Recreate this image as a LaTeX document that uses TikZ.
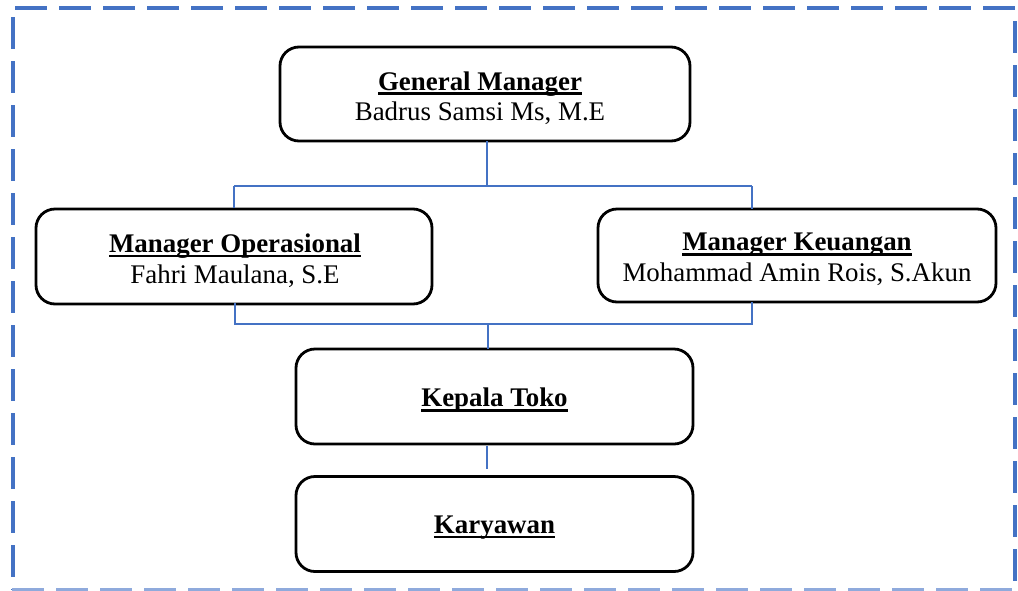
\documentclass[tikz,border=0pt]{standalone}
\usepackage{fontspec}
\setmainfont{Liberation Serif}
\definecolor{bordblue}{HTML}{4472C4}
\newcommand{\myul}[1]{\setbox0\hbox{#1}\rlap{\rule[-0.17em]{\wd0}{0.085em}}\box0}
\begin{document}
\begin{tikzpicture}[x=1pt,y=-1pt,
  orgbox/.style={draw=black,line width=2.8pt,rounded corners=19pt,fill=white,inner sep=0pt},
  orgtxt/.style={align=center,inner sep=0pt,yshift=-4pt,font=\fontsize{26.9}{30.5}\selectfont},
  conn/.style={draw=bordblue,line width=1.3pt},
  frame/.style={draw=bordblue,line width=4pt,dash pattern=on 32pt off 12pt}]
\useasboundingbox (0,0) rectangle (1018,590);
% dashed frame
\draw[frame] (15,8) -- (1018,8);
\draw[frame] (12.5,17) -- (12.5,590);
\draw[frame] (1015,21) -- (1015,590);
\draw[frame,draw=bordblue!60] (12,590) -- (1018,590);
% boxes
\node[orgbox,minimum width=410pt,minimum height=94pt] (gm) at (485,94) {};
\node[orgbox,minimum width=396pt,minimum height=95pt] (mo) at (234,256.5) {};
\node[orgbox,minimum width=398pt,minimum height=93pt] (mk) at (797,255.5) {};
\node[orgbox,minimum width=397pt,minimum height=95pt] (kt) at (494.5,396.5) {};
\node[orgbox,minimum width=397pt,minimum height=95pt] (ky) at (494.5,524) {};
% texts
\node[orgtxt,xshift=-5pt] (gmt) at (gm) {\myul{\textbf{General Manager}}\\Badrus Samsi Ms, M.E};
\node[orgtxt,xshift=1pt] (mot) at (mo) {\myul{\textbf{Manager Operasional}}\\Fahri Maulana, S.E};
\node[orgtxt] (mkt) at (mk) {\myul{\textbf{Manager Keuangan}}\\Mohammad Amin Rois, S.Akun};
\node[orgtxt] (ktt) at (kt) {\myul{\textbf{Kepala Toko}}};
\node[orgtxt] (kyt) at (ky) {\myul{\textbf{Karyawan}}};
% connectors
\coordinate (gmb) at (487,141);
\coordinate (ha) at (487,186);
\coordinate (hl) at (234,186);
\coordinate (hr) at (752,186);
\coordinate (mktop) at (752,209);
\coordinate (mob) at (235,303);
\coordinate (mkb) at (752,302);
\coordinate (ll) at (235,324);
\coordinate (lr) at (752,324);
\coordinate (lm) at (488,324);
\coordinate (kttop) at (488,349);
\coordinate (ktb) at (487,446);
\coordinate (kytop) at (487,469);
\draw[conn] (gmb) -- (ha);
\draw[conn] (hl) -- (hr);
\draw[conn] (hl) -- (mo.north);
\draw[conn] (hr) -- (mktop);
\draw[conn] (mob) -- (ll) -- (lr) -- (mkb);
\draw[conn] (lm) -- (kttop);
\draw[conn] (ktb) -- (kytop);
\end{tikzpicture}
\end{document}
